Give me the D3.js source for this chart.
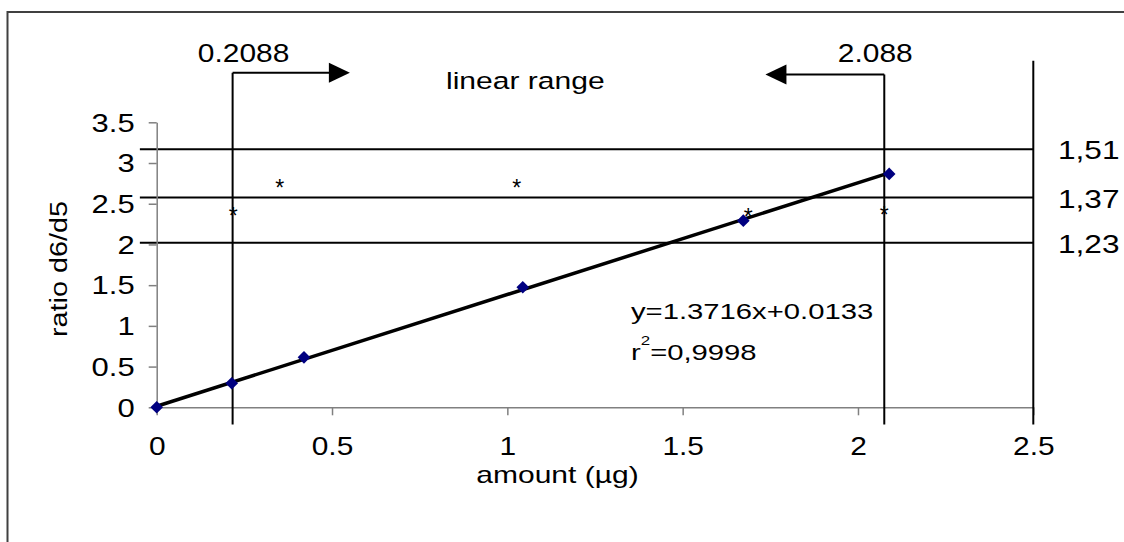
<!DOCTYPE html>
<html>
<head>
<meta charset="utf-8">
<script src="https://cdn.jsdelivr.net/npm/d3@7"></script>
<style>
  body { margin: 0; background: #fff; }
  svg { display: block; }
  text { font-family: "Liberation Sans", Arial, sans-serif; fill: #000; }
</style>
</head>
<body>
<div id="chart"></div>
<script>
// Calibration points (amount in µg vs ratio d6/d5)
const amounts = [0, 0.214, 0.42, 1.044, 1.673, 2.089];
const ratios = [0, 0.295, 0.614, 1.474, 2.292, 2.866];

// Asterisk markers
const starX = [0.218, 0.351, 1.027, 1.687, 2.075];
const starY = [2.41, 2.752, 2.752, 2.40, 2.42];

// Horizontal reference levels and their labels on the right
const refLevels = [3.17, 2.575, 2.022];
const refLabels = ["1,51", "1,37", "1,23"];

// Linear range limits (as drawn) and their labels
const limits = [0.2165, 2.075];
const limitLabels = ["0.2088", "2.088"];
const arrowLevels = [4.11, 4.086];
const arrowTips = [0.551, 1.736];

const xTicks = [0, 0.5, 1, 1.5, 2, 2.5];
const yTicks = [0, 0.5, 1, 1.5, 2, 2.5, 3, 3.5];

// Regression
const slope = 1.3716, intercept = 0.0133;

const W = 1124, H = 542;

const svg = d3.select("#chart")
  .append("svg")
  .attr("width", W)
  .attr("height", H);

// Outer frame (runs past right and bottom edges)
svg.append("rect")
  .attr("x", 7.5).attr("y", 12)
  .attr("width", 1300).attr("height", 700)
  .attr("fill", "none")
  .attr("stroke", "#404040")
  .attr("stroke-width", 2);

const x = d3.scaleLinear().domain([0, 2.5]).range([156.7, 1033.3]);
const y = d3.scaleLinear().domain([0, 3.5]).range([407.3, 122.3]);

function label(parent, px, py, str, size, sx, anchor) {
  return parent.append("text")
    .attr("transform", `translate(${px},${py}) scale(${sx},1)`)
    .attr("text-anchor", anchor || "start")
    .style("font-size", size + "px")
    .text(str);
}

// Horizontal reference lines
svg.selectAll("line.ref")
  .data(refLevels)
  .enter()
  .append("line")
  .attr("class", "ref")
  .attr("x1", x(-0.048))
  .attr("x2", x(2.5))
  .attr("y1", d => y(d))
  .attr("y2", d => y(d))
  .attr("stroke", "#000")
  .attr("stroke-width", 2);

refLevels.forEach((v, i) => {
  label(svg, 1058, y(v) + 10, refLabels[i], 25.5, 1.24, "start");
});

// Axes
const gx = svg.append("g")
  .attr("transform", `translate(0,${y(0)})`)
  .call(d3.axisBottom(x)
    .tickValues(xTicks)
    .tickSize(8)
    .tickSizeOuter(0)
    .tickFormat(d => String(d)));
gx.select(".domain").attr("stroke", "#808080").attr("stroke-width", 1.5);
gx.selectAll(".tick line").attr("stroke", "#808080").attr("stroke-width", 1.5);
gx.selectAll(".tick text")
  .attr("y", null).attr("dy", null)
  .attr("transform", "translate(0,47.7) scale(1.15,1)")
  .style("font-size", "26px");

const gy = svg.append("g")
  .attr("transform", `translate(${x(0)},0)`)
  .call(d3.axisLeft(y)
    .tickValues(yTicks)
    .tickSize(8)
    .tickSizeOuter(0)
    .tickFormat(d => String(d)));
gy.select(".domain").attr("stroke", "#808080").attr("stroke-width", 1.5);
gy.selectAll(".tick line").attr("stroke", "#808080").attr("stroke-width", 1.5);
gy.selectAll(".tick text")
  .attr("x", null).attr("dy", null)
  .attr("transform", "translate(-22,8.8) scale(1.24,1)")
  .style("font-size", "25px");

// Linear range limit lines with arrows
limits.forEach((v, i) => {
  svg.append("line")
    .attr("x1", x(v)).attr("x2", x(v))
    .attr("y1", y(-0.21)).attr("y2", y(arrowLevels[i]))
    .attr("stroke", "#000").attr("stroke-width", 2);

  const dir = arrowTips[i] > v ? 1 : -1;
  const tipX = x(arrowTips[i]);
  const ay = y(arrowLevels[i]);
  svg.append("line")
    .attr("x1", x(v)).attr("x2", tipX - dir * 20)
    .attr("y1", ay).attr("y2", ay)
    .attr("stroke", "#000").attr("stroke-width", 2);
  svg.append("path")
    .attr("d", `M${tipX},${ay} L${tipX - dir * 21},${ay - 10} L${tipX - dir * 21},${ay + 10} Z`)
    .attr("fill", "#000");

  label(svg, x(v) + (i === 0 ? 11 : -9), 62, limitLabels[i], 26.5, 1.13, "middle");
});

// Right boundary line at 2.5
svg.append("line")
  .attr("x1", x(2.5)).attr("x2", x(2.5))
  .attr("y1", y(-0.21)).attr("y2", y(4.255))
  .attr("stroke", "#000").attr("stroke-width", 2);

label(svg, 446, 89.3, "linear range", 23.3, 1.29, "start");

// Regression line
const trendX = [0, d3.max(amounts)];
svg.append("path")
  .datum(trendX)
  .attr("d", d3.line()
    .x(d => x(d))
    .y(d => y(slope * d + intercept)))
  .attr("fill", "none")
  .attr("stroke", "#000")
  .attr("stroke-width", 3.5);

// Data points (diamonds)
svg.selectAll("path.pt")
  .data(amounts)
  .enter()
  .append("path")
  .attr("class", "pt")
  .attr("d", d3.symbol().type(d3.symbolSquare).size(80))
  .attr("transform", (d, i) => `translate(${x(d)},${y(ratios[i])}) rotate(45)`)
  .attr("fill", "#000080");

// Asterisk markers
svg.selectAll("text.star")
  .data(starX)
  .enter()
  .append("text")
  .attr("class", "star")
  .attr("x", d => x(d))
  .attr("y", (d, i) => y(starY[i]) + 13)
  .attr("text-anchor", "middle")
  .style("font-size", "23px")
  .text("*");

// Equation
label(svg, 631, 319.3, "y=1.3716x+0.0133", 22.5, 1.3, "start");
const r2 = svg.append("text")
  .attr("transform", "translate(631,360) scale(1.3,1)")
  .style("font-size", "22.5px");
r2.append("tspan").text("r");
r2.append("tspan").attr("dy", -15).style("font-size", "13px").text("2");
r2.append("tspan").attr("dy", 15).text("=0,9998");

// Axis titles
label(svg, 557.5, 483, "amount (µg)", 24, 1.25, "middle");
svg.append("text")
  .attr("transform", "translate(67,269) rotate(-90) scale(1.2,1)")
  .attr("text-anchor", "middle")
  .style("font-size", "24px")
  .text("ratio d6/d5");
</script>
</body>
</html>
